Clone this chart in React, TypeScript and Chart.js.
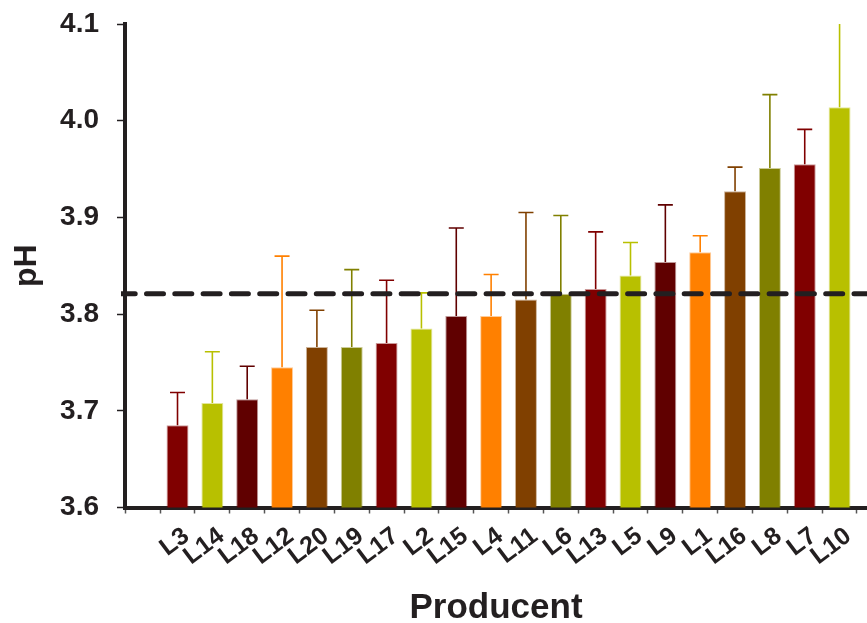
import React, { useEffect, useRef } from 'react';
import { Chart, registerables } from 'chart.js';

Chart.register(...registerables);

const categories = ['L3', 'L14', 'L18', 'L12', 'L20', 'L19', 'L17', 'L2', 'L15', 'L4', 'L11', 'L6', 'L13', 'L5', 'L9', 'L1', 'L16', 'L8', 'L7', 'L10'];
const meanPH = [3.685, 3.708, 3.712, 3.745, 3.766, 3.766, 3.770, 3.785, 3.798, 3.798, 3.815, 3.821, 3.826, 3.840, 3.854, 3.864, 3.927, 3.951, 3.955, 4.014];
const errorPH = [0.034, 0.053, 0.034, 0.115, 0.038, 0.080, 0.065, 0.037, 0.091, 0.043, 0.090, 0.081, 0.059, 0.034, 0.059, 0.017, 0.025, 0.076, 0.036, 0.100];
const palette = ['#800000', '#b8c000', '#600000', '#ff8000', '#804000', '#808000'];
const barColors = categories.map((_, i) => palette[i % palette.length]);
const referencePH = 3.821;
const yTicks = [3.6, 3.7, 3.8, 3.9, 4.0, 4.1];

const INK = '#231f20';
const FONT = "'Liberation Sans', Arial, Helvetica, sans-serif";

const errorBarPlugin = {
  id: 'errorBars',
  afterDatasetsDraw(chart: any) {
    const { ctx, chartArea } = chart;
    const xs = chart.scales.x;
    const ys = chart.scales.y;
    ctx.save();
    ctx.beginPath();
    ctx.rect(chartArea.left, chartArea.top, chartArea.right - chartArea.left + 20, chartArea.bottom - chartArea.top);
    ctx.clip();
    meanPH.forEach((m, i) => {
      const x = xs.getPixelForValue(i + 1);
      const y0 = ys.getPixelForValue(m);
      const y1 = ys.getPixelForValue(m + errorPH[i]);
      ctx.strokeStyle = barColors[i];
      ctx.lineWidth = 1.6;
      ctx.beginPath();
      ctx.moveTo(x, y0);
      ctx.lineTo(x, y1);
      ctx.moveTo(x - 7.5, y1);
      ctx.lineTo(x + 7.5, y1);
      ctx.stroke();
    });
    ctx.restore();

    // reference dashed line
    const yr = ys.getPixelForValue(referencePH);
    ctx.save();
    ctx.beginPath();
    ctx.rect(chartArea.left - 4, 0, chart.width, chart.height);
    ctx.clip();
    ctx.strokeStyle = INK;
    ctx.lineWidth = 5;
    ctx.lineCap = 'round';
    ctx.setLineDash([17, 11.3]);
    ctx.beginPath();
    ctx.moveTo(chartArea.left - 6.8, yr);
    ctx.lineTo(chart.width + 10, yr);
    ctx.stroke();
    ctx.restore();
  },
};

export default function App() {
  const ref = useRef<HTMLCanvasElement | null>(null);
  useEffect(() => {
    if (!ref.current) return;
    const chart = new Chart(ref.current, {
      type: 'bar',
      data: {
        datasets: [
          {
            data: meanPH.map((v, i) => ({ x: i + 1, y: v })),
            backgroundColor: barColors,
            borderColor: barColors.map((c) => c + '66'),
            borderWidth: 1,
            barPercentage: 0.63,
            categoryPercentage: 1,
          },
        ],
      },
      options: {
        responsive: false,
        animation: false,
        layout: { padding: { top: 24, right: 0, left: 0, bottom: 0 } },
        plugins: { legend: { display: false }, tooltip: { enabled: false } },
        scales: {
          x: {
            type: 'linear',
            min: 0,
            max: 20.28,
            afterBuildTicks: (s: any) => {
              s.ticks = Array.from({ length: 21 }, (_, i) => ({ value: i }));
            },
            afterFit: (s: any) => {
              s.height = 115.5;
              s.paddingLeft = 0;
              s.paddingRight = 0;
            },
            ticks: {
              autoSkip: false,
              minRotation: 37,
              maxRotation: 37,
              padding: 8,
              labelOffset: 9,
              color: INK,
              font: { family: FONT, size: 25, weight: 'bold' },
              callback: (v: any) => (v === 0 ? '' : categories[v - 1]),
            },
            grid: {
              display: true,
              drawOnChartArea: false,
              drawTicks: true,
              tickLength: 6,
              tickColor: '#555',
              tickWidth: 1.5,
            },
            border: { display: true, color: INK, width: 4 },
            title: {
              display: true,
              text: 'Producent',
              color: INK,
              font: { family: FONT, size: 35, weight: 'bold', lineHeight: 0.86 },
              padding: { top: -2, bottom: 0 },
            },
          },
          y: {
            type: 'linear',
            min: 3.6,
            max: 4.1,
            afterBuildTicks: (s: any) => {
              s.ticks = yTicks.map((v) => ({ value: v }));
            },
            afterFit: (s: any) => {
              s.width = 125;
              s.paddingTop = 0;
              s.paddingBottom = 0;
            },
            ticks: {
              padding: 18,
              color: INK,
              font: { family: FONT, size: 28, weight: 'bold' },
              callback: (v: any) => Number(v).toFixed(1),
            },
            grid: {
              display: true,
              drawOnChartArea: false,
              drawTicks: true,
              tickLength: 8,
              tickColor: INK,
              tickWidth: 1.5,
            },
            border: { display: true, color: INK, width: 4 },
            title: {
              display: true,
              text: 'pH',
              color: INK,
              font: { family: FONT, size: 32, weight: 'bold', lineHeight: 1.2 },
              padding: { top: 8, bottom: 0 },
            },
          },
        },
      },
      plugins: [errorBarPlugin],
    } as any);
    return () => chart.destroy();
  }, []);
  return (
    <div style={{ position: 'fixed', left: 0, top: 0, width: 867, height: 623, background: '#fff' }}>
      <canvas ref={ref} width={867} height={623} style={{ display: 'block' }} />
    </div>
  );
}
